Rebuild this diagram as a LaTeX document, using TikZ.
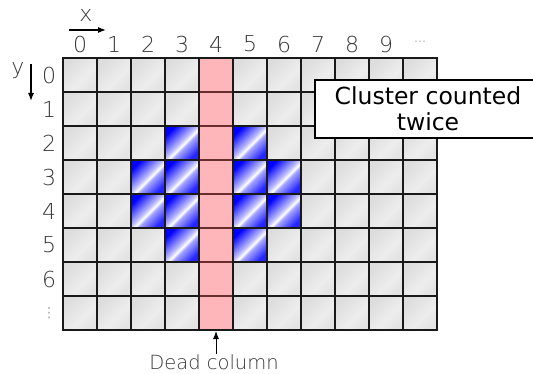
\documentclass[tikz,border=0pt]{standalone}
\usepackage{fontspec}
\setmainfont{DejaVu Sans}
\newfontfamily\lightfont{DejaVu Sans ExtraLight}
\usetikzlibrary{arrows.meta}
\definecolor{pinkc}{RGB}{255,182,186}
\definecolor{pinkline}{RGB}{105,45,45}
\definecolor{gridc}{RGB}{25,25,25}
\definecolor{lblc}{RGB}{55,55,55}
\pgfdeclarehorizontalshading{bluecell}{100bp}{color(0bp)=(blue); color(25bp)=(blue); color(48bp)=(blue!25); color(53bp)=(white); color(57bp)=(blue!35); color(75bp)=(blue!85); color(100bp)=(blue!85)}
\pgfdeclarehorizontalshading{graycell}{100bp}{color(0bp)=(gray!27); color(25bp)=(gray!27); color(58bp)=(gray!14); color(75bp)=(gray!22); color(100bp)=(gray!22)}
\tikzset{
  lbl/.style={font=\lightfont\fontsize{22}{24}\selectfont, text=lblc, inner sep=0pt},
  gridln/.style={draw=gridc, line width=1.6pt},
  arr/.style={-{Latex[length=8pt,width=6pt]}, line width=1.2pt, black},
}
\begin{document}
\begin{tikzpicture}[x=1pt,y=-1pt]
\useasboundingbox (0,0) rectangle (533,374);
% background cells
\foreach \c in {0,...,10}{
  \foreach \r in {0,...,7}{
    \path[shading=graycell, shading angle=-45] (63+34*\c,58+34*\r) rectangle ++(34,34);
  }
}
% cluster pixels
\foreach \c/\r in {3/2,5/2,2/3,3/3,5/3,6/3,2/4,3/4,5/4,6/4,3/5,5/5}{
  \path[shading=bluecell, shading angle=-45] (63+34*\c,58+34*\r) rectangle ++(34,34);
}
% dead column
\fill[pinkc] (199,58) rectangle (233,330);
% grid lines
\foreach \r in {1,...,7}{
  \draw[gridln] (63,58+34*\r) -- (199,58+34*\r);
  \draw[gridln] (233,58+34*\r) -- (437,58+34*\r);
  \draw[draw=pinkline, line width=1.6pt] (199,58+34*\r) -- (233,58+34*\r);
}
\foreach \c in {1,...,10}{
  \draw[gridln] (63+34*\c,58) -- (63+34*\c,330);
}
\draw[draw=gridc, line width=2pt] (63,58) rectangle (437,330);
% column labels
\foreach \c in {0,...,9}{
  \node[lbl] (col\c) at (80+34*\c,44) {\c};
}
\node[font=\fontsize{12}{14}\selectfont, text=gray!60, inner sep=0pt] (coldots) at (420,43) {⋯};
% row labels
\foreach \r in {0,...,6}{
  \node[lbl] (row\r) at (49,75+34*\r) {\r};
}
\node[font=\fontsize{14}{16}\selectfont, text=gray!70, inner sep=0pt] (rowdots) at (49,313) {⋮};
% axes
\node[lbl] (xlab) at (86,15) {x};
\coordinate (xs) at (69,30);
\coordinate (xe) at (106,30);
\draw[arr] (xs) -- (xe);
\node[lbl] (ylab) at (18,71) {y};
\coordinate (ys) at (31,64);
\coordinate (ye) at (31,101);
\draw[arr] (ys) -- (ye);
% dead column label
\node[lbl, font=\lightfont\fontsize{19.5}{21}\selectfont, anchor=base] (dead) at (214,369) {Dead column};
\coordinate (deadtip) at (216,331);
\draw[arr, line width=1pt] (dead.north -| deadtip) -- (deadtip);
% cluster counted twice
\draw[fill=white, draw=black, line width=1.3pt] (315,80) rectangle (545,138);
\node[font=\fontsize{23.5}{26}\selectfont, align=center, inner sep=0pt] (cct) at (428,109) {Cluster counted\\twice};
\end{tikzpicture}
\end{document}
